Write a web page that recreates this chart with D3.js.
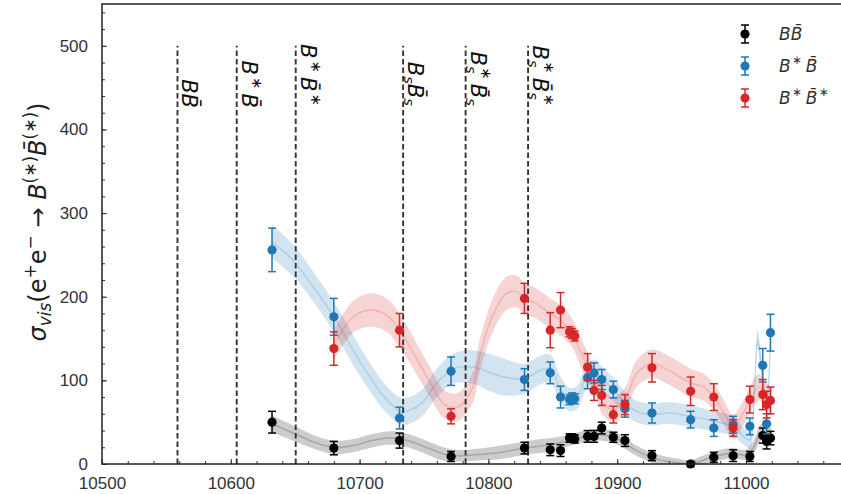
<!DOCTYPE html>
<html>
<head>
<meta charset="utf-8">
<script src="https://cdn.jsdelivr.net/npm/d3@7"></script>
<style>
  html, body { margin: 0; padding: 0; background: #fff; }
  svg { display: block; }
</style>
</head>
<body>
<svg id="chart" width="841" height="494"></svg>
<script>
// Centre-of-mass energies (MeV) of the scan points
const energies = [10632, 10680, 10731, 10771, 10828, 10848, 10856, 10863, 10865, 10867,
                  10877, 10882, 10888, 10897, 10906, 10927, 10957, 10975, 10990, 11003,
                  11013, 11016, 11019];

// Visible cross sections (pb) and their uncertainties
const bbValues  = [50, 19, 28, 9, 19, 17, 16, 31, 31, 30, 33, 33, 43, 32, 28, 10, 0, 8, 10, 9, 34, 27, 31];
const bbErrors  = [13, 8, 9, 6, 7, 7, 7, 5, 5, 5, 7, 7, 7, 6, 7, 6, 3, 6, 7, 6, 9, 9, 8];
const bsbValues = [256, 176, 55, 111, 101, 109, 80, 77, 79, 78, 103, 109, 101, 89, 66, 61, 53, 43, 47, 45, 118, 48, 157];
const bsbErrors = [26, 22, 13, 17, 13, 13, 13, 6, 6, 6, 13, 12, 12, 10, 10, 12, 10, 10, 10, 10, 20, 12, 22];
const bsbsValues = [null, 138, 160, 57, 198, 160, 184, 158, 156, 153, 116, 88, 82, 59, 71, 115, 87, 80, 43, 77, 83, 71, 76];
const bsbsErrors = [null, 20, 20, 9, 18, 21, 21, 6, 6, 6, 16, 12, 12, 10, 12, 17, 17, 16, 10, 16, 18, 16, 16];

// Model curves: energy grid, central value, half-width of the uncertainty band
const bbBandE  = [10632, 10650, 10665, 10680, 10695, 10710, 10722, 10735, 10750, 10765, 10775, 10790, 10810, 10828, 10848, 10860, 10872, 10887, 10900, 10915, 10930, 10945, 10957, 10975, 10990, 11000, 11006, 11012, 11020];
const bbBandC  = [48, 36, 26, 20, 22, 28, 31, 29, 21, 12, 10, 11, 14, 19, 23, 27, 32, 35, 30, 16, 6, 2, 0, 9, 13, 11, 20, 38, 32];
const bbBandW  = [10, 9, 8, 8, 8, 8, 8, 8, 8, 8, 7, 7, 8, 8, 8, 7, 7, 7, 7, 6, 6, 5, 5, 6, 6, 6, 8, 10, 10];

const bsbBandE = [10632, 10648, 10664, 10680, 10695, 10708, 10721, 10733, 10747, 10760, 10773, 10788, 10800, 10812, 10828, 10840, 10848, 10856, 10863, 10869, 10876, 10883, 10889, 10897, 10906, 10915, 10927, 10940, 10957, 10975, 10990, 10998, 11003, 11006, 11009, 11012, 11016, 11019];
const bsbBandC = [266, 244, 212, 176, 136, 104, 77, 63, 71, 97, 114, 116, 110, 104, 102, 112, 114, 89, 77, 80, 104, 110, 100, 89, 73, 63, 59, 61, 57, 51, 45, 33, 29, 70, 150, 116, 70, 150];
const bsbBandW = [20, 19, 18, 18, 18, 17, 16, 16, 16, 17, 18, 20, 22, 22, 18, 17, 17, 15, 14, 14, 15, 15, 15, 14, 14, 13, 13, 13, 13, 12, 12, 10, 10, 10, 10, 10, 10, 10];

const bsbsBandE = [10680, 10695, 10708, 10721, 10731, 10742, 10755, 10766, 10776, 10788, 10793, 10804, 10814, 10822, 10828, 10837, 10848, 10856, 10865, 10871, 10876, 10883, 10889, 10897, 10906, 10915, 10927, 10940, 10957, 10967, 10975, 10983, 10990, 10998, 11004, 11010, 11014, 11020];
const bsbsBandC = [142, 176, 184, 178, 160, 132, 97, 71, 68, 92, 128, 180, 204, 206, 198, 192, 180, 172, 157, 136, 120, 97, 73, 65, 76, 108, 120, 112, 97, 92, 80, 61, 45, 61, 80, 92, 85, 77];
const bsbsBandW = [18, 19, 20, 20, 20, 19, 18, 17, 17, 18, 19, 20, 20, 19, 18, 18, 18, 18, 17, 17, 17, 16, 15, 15, 15, 16, 17, 17, 17, 16, 16, 15, 14, 15, 16, 16, 15, 15];

// Open-flavour thresholds (MeV)
const thresholds = [10558.6, 10604.6, 10650.4, 10733.8, 10782.3, 10830.8];

const xTicks = [10500, 10600, 10700, 10800, 10900, 11000];
const yTicks = [0, 100, 200, 300, 400, 500];

const colors = { bb: "#000000", bsb: "#1f77b4", bsbs: "#d62728" };

const svg = d3.select("#chart");
const padL = 102, padB = 464, padT = 4;

const x = d3.scaleLinear().domain([10500, 11080]).range([padL, padL + 580 * 1.288]);
const y = d3.scaleLinear().domain([0, 550]).range([padB, padT]);
const padR = x.range()[1];

svg.append("defs").append("clipPath").attr("id", "plotclip")
  .append("rect").attr("x", padL).attr("y", padT).attr("width", padR - padL).attr("height", padB - padT);

const plot = svg.append("g").attr("clip-path", "url(#plotclip)");

// Uncertainty bands with their central curves
function band(E, C, W, color) {
  const pts = E.map((e, i) => ({ e, c: C[i], w: W[i] }));
  const area = d3.area()
    .x(d => x(d.e)).y0(d => y(d.c - d.w)).y1(d => y(d.c + d.w))
    .curve(d3.curveCatmullRom.alpha(0.5));
  const line = d3.line().x(d => x(d.e)).y(d => y(d.c)).curve(d3.curveCatmullRom.alpha(0.5));
  plot.append("path").datum(pts).attr("d", area)
    .attr("fill", color).attr("fill-opacity", 0.2).attr("stroke", "none");
  plot.append("path").datum(pts).attr("d", line)
    .attr("fill", "none").attr("stroke", color).attr("stroke-opacity", 0.18).attr("stroke-width", 1.6);
}
band(bbBandE, bbBandC, bbBandW, colors.bb);
band(bsbBandE, bsbBandC, bsbBandW, colors.bsb);
band(bsbsBandE, bsbsBandC, bsbsBandW, colors.bsbs);

// Threshold markers
plot.selectAll("line.thr").data(thresholds).join("line")
  .attr("class", "thr")
  .attr("x1", d => x(d)).attr("x2", d => x(d))
  .attr("y1", y(0)).attr("y2", y(500))
  .attr("stroke", "#333").attr("stroke-width", 1.9).attr("stroke-dasharray", "5.5,3");

// Rich text: parts are [text, kind]; kind "sup"/"sub" shift the baseline,
// "star" is a superscript asterisk set with operator spacing,
// "starback" sits above a preceding subscript.
const STAR = "\u2217";
function addRich(textSel, parts, size) {
  let shift = 0;
  parts.forEach(([t, kind]) => {
    const ts = textSel.append("tspan").text(t);
    let target = 0, fs = size, dx = 0;
    if (kind === "sup") { target = -0.38 * size; fs = size * 0.7; }
    if (kind === "star" || kind === "starback") { target = -0.5 * size; fs = size * 0.7; }
    if (kind === "sub") { target = 0.22 * size; fs = size * 0.7; }
    if (kind === "star") dx = 0.1 * size;
    if (kind === "starback") dx = -0.3 * size;
    if (kind === "afterstar") dx = 0.2 * size;
    ts.attr("dy", target - shift).attr("font-size", fs);
    if (dx) ts.attr("dx", dx);
    shift = target;
  });
  if (shift !== 0) textSel.append("tspan").text("\u200A").attr("dy", -shift);
}

// Threshold labels (rotated, reading downward)
const thrLabels = [
  [["B", ""], ["B\u0304", ""]],
  [["B", ""], [STAR, "star"], ["B\u0304", "afterstar"]],
  [["B", ""], [STAR, "star"], ["B\u0304", "afterstar"], [STAR, "star"]],
  [["B", ""], ["s", "sub"], ["B\u0304", ""], ["s", "sub"]],
  [["B", ""], ["s", "sub"], [STAR, "starback"], ["B\u0304", "afterstar"], ["s", "sub"]],
  [["B", ""], ["s", "sub"], [STAR, "starback"], ["B\u0304", "afterstar"], ["s", "sub"], [STAR, "starback"]]
];

thresholds.forEach((t, i) => {
  const tx = x(t) + 5, ty = 108;
  const txt = svg.append("text")
    .attr("transform", `translate(${tx},${ty}) rotate(90)`)
    .attr("text-anchor", "end")
    .attr("font-family", "DejaVu Sans")
    .attr("font-style", "italic")
    .attr("font-size", 21)
    .attr("fill", "#111");
  addRich(txt, thrLabels[i], 21);
});

// Data points with error bars
function points(vals, errs, color) {
  const data = energies.map((e, i) => ({ e, v: vals[i], s: errs[i] })).filter(d => d.v !== null);
  const g = svg.append("g");
  const cap = 4;
  g.selectAll("line.eb").data(data).join("line")
    .attr("x1", d => x(d.e)).attr("x2", d => x(d.e))
    .attr("y1", d => y(d.v - d.s)).attr("y2", d => y(d.v + d.s))
    .attr("stroke", color).attr("stroke-width", 1.5);
  g.selectAll("line.ct").data(data).join("line")
    .attr("x1", d => x(d.e) - cap).attr("x2", d => x(d.e) + cap)
    .attr("y1", d => y(d.v + d.s)).attr("y2", d => y(d.v + d.s))
    .attr("stroke", color).attr("stroke-width", 1.5);
  g.selectAll("line.cb").data(data).join("line")
    .attr("x1", d => x(d.e) - cap).attr("x2", d => x(d.e) + cap)
    .attr("y1", d => y(d.v - d.s)).attr("y2", d => y(d.v - d.s))
    .attr("stroke", color).attr("stroke-width", 1.5);
  g.selectAll("circle").data(data).join("circle")
    .attr("cx", d => x(d.e)).attr("cy", d => y(d.v)).attr("r", 4.6)
    .attr("fill", color);
}
points(bbValues, bbErrors, colors.bb);
points(bsbValues, bsbErrors, colors.bsb);
points(bsbsValues, bsbsErrors, colors.bsbs);

// Axes with inward ticks
const xAxis = svg.append("g").attr("transform", `translate(0,${padB})`);
xAxis.call(d3.axisBottom(x).tickValues(d3.range(10500, 11081, 20)).tickSize(-3).tickFormat(""));
xAxis.selectAll(".tick line").attr("stroke", "#333");
xAxis.select(".domain").remove();
const xMaj = svg.append("g").attr("transform", `translate(0,${padB})`)
  .call(d3.axisBottom(x).tickValues(xTicks).tickSize(-5).tickPadding(13).tickFormat(d3.format("d")));
xMaj.select(".domain").remove();
xMaj.selectAll("text").attr("font-family", "Liberation Sans, Arial, sans-serif").attr("font-size", 17).attr("fill", "#333");
xMaj.selectAll(".tick line").attr("stroke", "#333");

const yAxis = svg.append("g").attr("transform", `translate(${padL},0)`);
yAxis.call(d3.axisLeft(y).tickValues(d3.range(0, 541, 20)).tickSize(-3).tickFormat(""));
yAxis.select(".domain").remove();
yAxis.selectAll(".tick line").attr("stroke", "#333");
const yMaj = svg.append("g").attr("transform", `translate(${padL},0)`)
  .call(d3.axisLeft(y).tickValues(yTicks).tickSize(-5).tickPadding(14));
yMaj.select(".domain").remove();
yMaj.selectAll("text").attr("font-family", "Liberation Sans, Arial, sans-serif").attr("font-size", 17).attr("fill", "#333");
yMaj.selectAll(".tick line").attr("stroke", "#333");

// Frame
svg.append("rect").attr("x", padL).attr("y", padT).attr("width", padR - padL).attr("height", padB - padT)
  .attr("fill", "none").attr("stroke", "#222").attr("stroke-width", 1.5);

// Y-axis title
const ylab = svg.append("text")
  .attr("transform", `translate(46,222) rotate(-90)`)
  .attr("text-anchor", "middle")
  .attr("font-family", "DejaVu Sans")
  .attr("font-size", 24)
  .attr("fill", "#222");
ylab.append("tspan").text("σ").attr("font-style", "italic");
ylab.append("tspan").text("vis").attr("font-style", "italic").attr("font-size", 17).attr("dy", 5);
ylab.append("tspan").text("(e").attr("dy", -5);
ylab.append("tspan").text("+").attr("font-size", 17).attr("dy", -10);
ylab.append("tspan").text("e").attr("dy", 10);
ylab.append("tspan").text("−").attr("font-size", 17).attr("dy", -10);
ylab.append("tspan").text(" → ").attr("dy", 10);
ylab.append("tspan").text("B").attr("font-style", "italic");
ylab.append("tspan").text("(" + STAR + ")").attr("font-size", 17).attr("dy", -10);
ylab.append("tspan").text("B\u0304").attr("font-style", "italic").attr("dy", 10);
ylab.append("tspan").text("(" + STAR + ")").attr("font-size", 17).attr("dy", -10);
ylab.append("tspan").text(")").attr("dy", 10);

// Legend
const legend = [
  { parts: [["B", ""], ["B\u0304", ""]], color: colors.bb },
  { parts: [["B", ""], [STAR, "star"], ["B\u0304", "afterstar"]], color: colors.bsb },
  { parts: [["B", ""], [STAR, "star"], ["B\u0304", "afterstar"], [STAR, "star"]], color: colors.bsbs }
];
legend.forEach((d, i) => {
  const ly = 34 + i * 32, lx = 745;
  const g = svg.append("g");
  g.append("line").attr("x1", lx).attr("x2", lx).attr("y1", ly - 9).attr("y2", ly + 9).attr("stroke", d.color).attr("stroke-width", 1.5);
  g.append("line").attr("x1", lx - 4).attr("x2", lx + 4).attr("y1", ly - 9).attr("y2", ly - 9).attr("stroke", d.color).attr("stroke-width", 1.5);
  g.append("line").attr("x1", lx - 4).attr("x2", lx + 4).attr("y1", ly + 9).attr("y2", ly + 9).attr("stroke", d.color).attr("stroke-width", 1.5);
  g.append("circle").attr("cx", lx).attr("cy", ly).attr("r", 4.6).attr("fill", d.color);
  const t = g.append("text").attr("x", 779).attr("y", ly + 6)
    .attr("font-family", "DejaVu Sans").attr("font-style", "italic").attr("font-size", 17).attr("fill", "#333");
  addRich(t, d.parts, 17);
});
</script>
</body>
</html>
